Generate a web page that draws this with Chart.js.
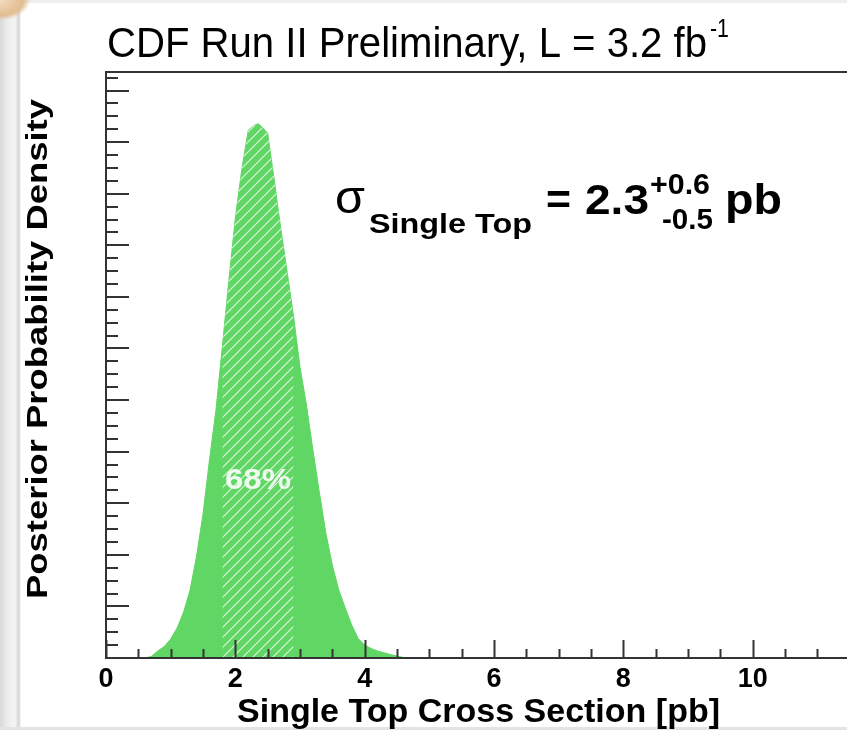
<!DOCTYPE html>
<html>
<head>
<meta charset="utf-8">
<title>Single top cross section posterior</title>
<script src="https://cdn.jsdelivr.net/npm/chart.js@4.4.1/dist/chart.umd.min.js"></script>
<style>
  html, body { margin: 0; padding: 0; overflow: hidden; }
  body { width: 847px; height: 730px; position: relative; background: #ffffff; }
  #edge { position: absolute; left: 0; top: 0; width: 21px; height: 730px;
    background: linear-gradient(to right, #d9d9d9 0px, #ececec 7px, #f4f4f4 15px, #d4d4d4 19px, #ffffff 21px); }
  #topStrip { position: absolute; left: 0; top: 0; width: 847px; height: 3px; background: #efefef; }
  #bottomStrip { position: absolute; left: 0; top: 727px; width: 847px; height: 3px; background: #e4e4e4; }
  #curl { position: absolute; left: 0; top: 0; width: 30px; height: 20px;
    background: radial-gradient(ellipse at 0 0, #f3dcc0 0, #e2bd92 55%, rgba(226,189,146,0) 72%); }
  #c { position: absolute; left: 0; top: 0; }
</style>
</head>
<body>
<div id="edge"></div>
<div id="topStrip"></div>
<div id="bottomStrip"></div>
<div id="curl"></div>
<canvas id="c" width="900" height="730"></canvas>
<script>
// bin centres [pb] and posterior density (arbitrary normalisation)
const xValues = [0.6, 0.7, 0.8, 0.9, 1.0, 1.1, 1.2, 1.3, 1.4, 1.5, 1.6, 1.7, 1.8, 1.9,
                 2.0, 2.1, 2.2, 2.3, 2.35, 2.4, 2.5, 2.6, 2.7, 2.8, 2.9, 3.0, 3.1, 3.2,
                 3.3, 3.4, 3.5, 3.6, 3.7, 3.8, 3.9, 4.0, 4.1, 4.2, 4.3, 4.4, 4.5, 4.6, 4.7];
const density = [0, 0.0015, 0.0068, 0.0111, 0.0184, 0.0291, 0.0446, 0.0659, 0.0988, 0.1395,
                 0.1919, 0.2403, 0.3023, 0.3663, 0.4264, 0.4738, 0.5116, 0.5165, 0.5179, 0.5155,
                 0.5087, 0.4642, 0.4176, 0.3750, 0.3314, 0.2820, 0.2452, 0.2016, 0.1604, 0.1211,
                 0.0901, 0.0659, 0.0485, 0.0320, 0.0189, 0.0126, 0.0092, 0.0068, 0.0050, 0.0034,
                 0.0019, 0.0005, 0];

// measured cross section and its 68% interval
const sigmaCentral = 2.3;
const sigmaErrUp = 0.6;
const sigmaErrDown = 0.5;
const intervalLabel = '68%';

// axis ranges and labelled ticks
const xMin = 0, xMax = 12;
const yMax = 0.568;
const xTickLabels = [0, 2, 4, 6, 8, 10];
const xMinorStep = 0.5;
const yMinorStep = 0.0125;

const FONT = "'Liberation Sans', Arial, Helvetica, sans-serif";
const GREEN = '#60d665';

const canvas = document.getElementById('c');
const ctx = canvas.getContext('2d');

const lo = sigmaCentral - sigmaErrDown;
const hi = sigmaCentral + sigmaErrUp;
const posteriorPoints = xValues.map((x, i) => ({ x: x, y: density[i] }));
const intervalPoints = posteriorPoints.filter(p => p.x >= lo - 1e-9 && p.x <= hi + 1e-9);

// white "/" hatching for the 68% band
function makeHatch() {
  const c = document.createElement('canvas');
  c.width = 10; c.height = 10;
  const g = c.getContext('2d');
  g.strokeStyle = 'rgba(255,255,255,0.8)';
  g.lineWidth = 1.1;
  g.beginPath();
  g.moveTo(-1, 11); g.lineTo(11, -1);
  g.moveTo(-1, 1); g.lineTo(1, -1);
  g.moveTo(9, 11); g.lineTo(11, 9);
  g.stroke();
  return ctx.createPattern(c, 'repeat');
}

// text squeezed or stretched to a given width, left aligned at (x, y)
function fitText(g, str, x, y, font, width, color) {
  g.save();
  g.font = font;
  g.fillStyle = color || '#000';
  g.textAlign = 'left';
  g.textBaseline = 'alphabetic';
  const w = g.measureText(str).width;
  g.translate(x, y);
  g.scale(width / w, 1);
  g.fillText(str, 0, 0);
  g.restore();
}

function line(g, x1, y1, x2, y2) {
  g.beginPath();
  g.moveTo(x1, y1);
  g.lineTo(x2, y2);
  g.stroke();
}

// ROOT-like frame: ticks inside the box, labels and titles drawn by hand
const rootStyle = {
  id: 'rootStyle',
  afterDatasetsDraw(chart) {
    const g = chart.ctx;
    const a = chart.chartArea;
    const xs = chart.scales.x, ys = chart.scales.y;
    g.save();
    g.strokeStyle = '#333';
    g.lineWidth = 2;
    g.strokeRect(a.left, a.top, a.right - a.left, a.bottom - a.top);

    const nx = Math.round((xMax - xMin) / xMinorStep);
    for (let i = 0; i <= nx; i++) {
      const px = Math.round(xs.getPixelForValue(xMin + i * xMinorStep)) + 0.5;
      const len = (i % 4 === 0) ? 18 : 9;
      line(g, px, a.bottom, px, a.bottom - len);
    }
    const ny = Math.floor(yMax / yMinorStep + 1e-6);
    for (let i = 1; i <= ny; i++) {
      const py = Math.round(ys.getPixelForValue(i * yMinorStep));
      const len = (i % 4 === 0) ? 23 : 12;
      line(g, a.left, py, a.left + len, py);
    }
    g.restore();

    // band label
    fitText(g, intervalLabel, 225, 489, 'bold 30px ' + FONT, 66, 'rgba(245,252,245,0.95)');
  },
  afterDraw(chart) {
    const g = chart.ctx;
    const xs = chart.scales.x;

    // x tick labels
    g.save();
    g.font = 'bold 27px ' + FONT;
    g.fillStyle = '#000';
    g.textAlign = 'center';
    g.textBaseline = 'alphabetic';
    xTickLabels.forEach(v => g.fillText(String(v), xs.getPixelForValue(v), 687));
    g.restore();

    // axis titles
    fitText(g, 'Single Top Cross Section [pb]', 237, 722, 'bold 33px ' + FONT, 483);
    g.save();
    g.translate(47, 599);
    g.rotate(-Math.PI / 2);
    fitText(g, 'Posterior Probability Density', 0, 0, 'bold 30px ' + FONT, 500);
    g.restore();

    // header
    fitText(g, 'CDF Run II Preliminary, L = 3.2 fb', 107, 57, '42px ' + FONT, 600);
    fitText(g, '-1', 710, 37, '25px ' + FONT, 19);

    // result
    fitText(g, '\u03c3', 335, 213, '46px ' + FONT, 30);
    fitText(g, 'Single Top', 369, 233, 'bold 28px ' + FONT, 163);
    fitText(g, '=', 546, 214, 'bold 42px ' + FONT, 25);
    fitText(g, sigmaCentral.toFixed(1), 585, 214, 'bold 43px ' + FONT, 64);
    fitText(g, '+' + sigmaErrUp.toFixed(1), 650, 194, 'bold 30px ' + FONT, 60);
    fitText(g, '-' + sigmaErrDown.toFixed(1), 662, 229, 'bold 30px ' + FONT, 51);
    fitText(g, 'pb', 725, 214, 'bold 43px ' + FONT, 57);
  }
};

const chart = new Chart(ctx, {
  type: 'line',
  data: {
    datasets: [
      {
        label: 'interval',
        data: intervalPoints,
        order: 0,
        fill: 'origin',
        backgroundColor: makeHatch(),
        borderColor: 'rgba(0,0,0,0)',
        borderWidth: 0,
        pointRadius: 0
      },
      {
        label: 'posterior',
        data: posteriorPoints,
        order: 1,
        fill: 'origin',
        backgroundColor: GREEN,
        borderColor: GREEN,
        borderWidth: 1,
        pointRadius: 0
      }
    ]
  },
  options: {
    responsive: false,
    animation: false,
    devicePixelRatio: 1,
    layout: { padding: { left: 106, top: 72, right: 18, bottom: 72 } },
    elements: { line: { tension: 0 } },
    scales: {
      x: { type: 'linear', min: xMin, max: xMax, display: false },
      y: { type: 'linear', min: 0, max: yMax, display: false }
    },
    plugins: {
      legend: { display: false },
      tooltip: { enabled: false }
    }
  },
  plugins: [rootStyle]
});
</script>
</body>
</html>
